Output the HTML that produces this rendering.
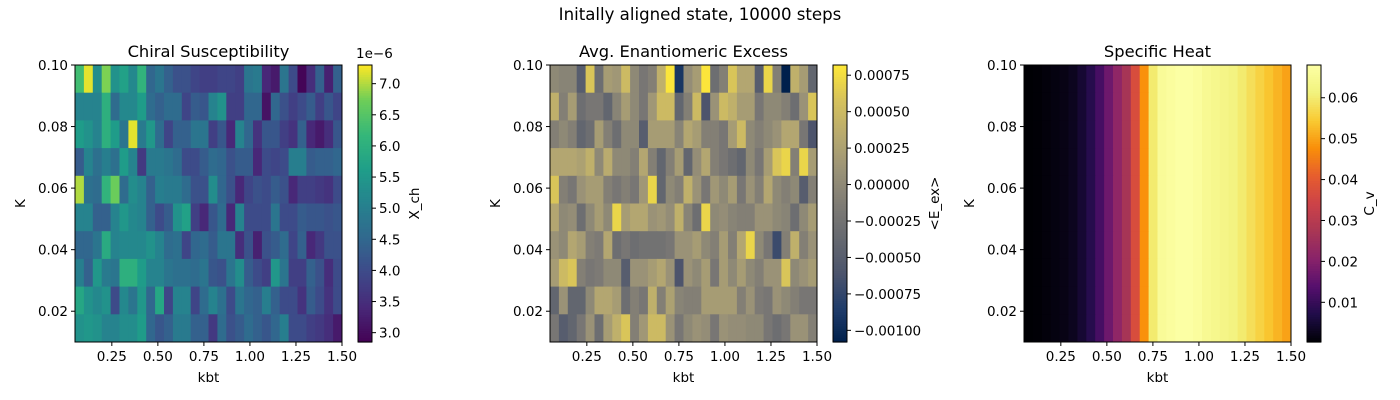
<!DOCTYPE html>
<html><head><meta charset="utf-8">
<style>
body{margin:0;background:#fff;}
svg{display:block;font-family:"DejaVu Sans","Liberation Sans",sans-serif;}
</style></head>
<body>
<svg id="fig" width="1400" height="400" viewBox="0 0 1400 400">
<rect width="1400" height="400" fill="#fff"/>
<text x="700" y="20" text-anchor="middle" font-size="16.6" fill="#000">Initally aligned state, 10000 steps</text>
</svg>
<script>
const xEdges = [0.05, 1.5];
const yEdges = [0.01, 0.10];
const xTicks = [0.25, 0.5, 0.75, 1.0, 1.25, 1.5];
const xTickLabels = ["0.25","0.50","0.75","1.00","1.25","1.50"];
const yTicks = [0.02, 0.04, 0.06, 0.08, 0.10];
const yTickLabels = ["0.02","0.04","0.06","0.08","0.10"];

// Chiral susceptibility (units of 1e-6), rows top (K=0.10) to bottom
const chiRows = [
[6.3,7.2,5.3,6.8,5.4,5.7,5.2,6.1,4.5,4.8,4.4,4.1,4.1,3.9,3.8,3.8,3.9,3.9,3.8,4.8,4.9,3.4,3.2,4.8,4.0,2.9,3.5,4.4,3.3,4.4],
[5.1,5.1,5.1,6.0,4.6,5.2,5.2,5.6,4.6,4.4,4.6,4.6,3.9,4.3,4.2,5.1,5.4,3.8,3.8,4.5,4.5,3.1,4.5,4.1,3.8,4.0,4.3,3.8,4.2,3.9],
[5.6,5.4,5.1,6.0,5.6,4.8,7.2,4.9,5.5,4.6,3.9,4.4,4.4,4.8,4.8,3.8,4.2,3.4,5.1,4.5,3.6,4.2,4.2,3.8,3.6,4.4,3.4,3.2,3.5,4.2],
[4.3,5.1,4.7,5.0,4.7,5.6,5.1,3.7,4.9,4.9,4.8,4.6,4.0,4.0,4.3,4.6,4.5,4.1,4.3,4.3,3.4,4.0,3.9,4.0,5.0,5.0,4.3,4.4,4.4,4.5],
[7.0,4.7,4.6,6.1,6.7,4.6,5.3,5.1,4.4,5.0,4.9,4.9,4.6,4.1,4.1,5.3,4.5,4.1,3.4,3.9,4.1,4.0,4.3,4.1,3.4,3.8,3.8,3.7,3.6,4.0],
[5.1,5.1,4.4,4.4,5.1,5.5,5.2,5.1,4.4,4.0,4.3,5.4,5.7,3.8,3.4,4.2,4.6,3.4,5.1,4.0,4.0,4.0,4.8,4.0,4.0,4.3,4.2,4.2,4.1,4.2],
[4.5,4.5,4.8,5.9,5.1,5.2,5.2,5.2,5.4,5.1,4.6,4.7,3.9,4.5,4.6,4.3,4.8,4.8,3.5,4.1,3.3,4.1,4.3,4.6,3.9,4.4,3.4,3.7,4.1,4.1],
[5.0,4.4,5.5,4.9,4.8,6.0,6.0,5.6,5.1,5.1,4.8,4.7,4.7,4.6,4.8,4.2,4.1,4.8,5.3,4.3,4.0,3.8,5.5,4.8,3.8,3.8,4.4,4.1,3.5,4.0],
[5.8,5.4,5.2,5.4,4.0,5.2,4.8,5.5,4.5,5.8,3.9,5.1,5.1,3.9,4.6,5.1,4.7,4.0,4.8,4.5,4.4,5.0,4.4,4.0,4.0,3.6,4.3,4.0,3.6,4.0],
[5.4,5.5,5.4,5.1,5.1,5.3,5.3,5.6,4.5,4.2,4.4,4.9,4.9,4.4,4.4,3.7,4.6,4.1,4.3,4.6,4.4,4.2,4.5,5.0,4.0,4.0,3.8,3.7,3.5,3.2]
];
const chiTicks = [3.0,3.5,4.0,4.5,5.0,5.5,6.0,6.5,7.0];
const chiTickLabels = ["3.0","3.5","4.0","4.5","5.0","5.5","6.0","6.5","7.0"];

// Enantiomeric excess (units of 1e-4)
const eeRows = [
[0,-0.5,-0.5,-5,6,-3,2,1.5,5,0,-2,-1,4,8,-9,0.5,2,8,-3,-1,6,3,3,-5,7,-1,-10.8,4,2,-4],
[4,-1,2,-3,-2,-2,-4,-0.5,2,0,-2,1.5,5,5,-4,-1,5,-6,1,5,4,2,2,-2,0,0,-1,-3,1,6],
[-1,0,-1,-4,-3,2,-1,-3,0,0,-5,2,2,2,-0.5,3,2,-1,-1,-2,2,5,0,-1,0,1,3,3,-2,-6],
[3,3,3,2.5,4,0,3.5,0,0,-1,3,-1,-4,-1,2,-4,0.5,3,-1,-2,-3,-4,0,-2,2,6,7,-1,7,2],
[6,-1,-2,1,2,2,-1,-2,-1,-2,1.5,7,-4,0,-1,4,1,-2,1.5,0,2,-2,1,-1,3,0,-1,0,-5,-1],
[3,0,0.5,-3,0,2,0,7,2,3,3,1,1.5,0.5,4,-0.5,-3,7,0,0.5,-0.5,-1,-1,1,1,0,-0.5,-3,0,2],
[1,0,3,2,-1,-1.5,3,-3,-2,-3,-2.5,-2.5,-2.5,-2,1,1,2,0,-1,2,-1,3,7,0,-2,-7,-1,4,-1,1],
[2,5,6,-1,-2,-1.5,0,0,-5,1,1,2,3,1,-6,1,0,2,-2,2,0,2,0,-1,1,1,6,0,1,2],
[-4,1,-4,-4,0,3,3,2,-3,-1,-2,4,-1,2.5,-0.5,-1,-1,2,2,2,2,-1,1,-1.5,-2,1,0,-1,-2,-2],
[-2,-5,-4,-2,1,-3,2,4,6,-1,1.5,5,5,1,-2,0,1,0.5,-2,1,0.5,0.5,0,0,-2,-3,-2,1,1,-1]
];
const eeTicks = [-10,-7.5,-5,-2.5,0,2.5,5,7.5];
const eeTickLabels = ["\u22120.00100","\u22120.00075","\u22120.00050","\u22120.00025","0.00000","0.00025","0.00050","0.00075"];

// Specific heat per kbt column (constant over K)
const cvCols = [0.0003,0.0005,0.001,0.0015,0.002,0.003,0.005,0.008,0.012,0.017,0.022,0.027,0.037,0.048,0.060,0.066,0.067,0.068,0.068,0.067,0.065,0.064,0.063,0.062,0.060,0.058,0.056,0.054,0.052,0.050];
const cvTicks = [0.01,0.02,0.03,0.04,0.05,0.06];
const cvTickLabels = ["0.01","0.02","0.03","0.04","0.05","0.06"];

const viridis=["#440154","#482878","#3e4989","#31688e","#26828e","#1f9e89","#35b779","#6ece58","#fde725"];
const cividis=["#00204c","#213d6b","#4c546c","#666970","#7f7c75","#9b9377","#b8aa6f","#d6c25c","#fee838"];
const inferno=["#000004","#1f0c48","#550f6d","#88226a","#a83655","#cc4248","#e65d2f","#f98e09","#f9c932","#f2f27d","#fcffa4"];

function hex(h){return [1,3,5].map(i=>parseInt(h.substr(i,2),16));}
function cmap(stops,t){t=Math.max(0,Math.min(1,t));const n=stops.length-1;const f=t*n;const i=Math.min(n-1,Math.floor(f));const a=hex(stops[i]),b=hex(stops[i+1]);const u=f-i;return "rgb("+a.map((v,k)=>Math.round(v+(b[k]-v)*u)).join(",")+")";}

const NS="http://www.w3.org/2000/svg";
const svg=document.getElementById("fig");
function el(tag,attrs,parent){const e=document.createElementNS(NS,tag);for(const k in attrs)e.setAttribute(k,attrs[k]);(parent||svg).appendChild(e);return e;}
function txt(x,y,s,size,anchor,parent,rot){const t=el("text",{x:x,y:y,"font-size":size,"text-anchor":anchor||"middle",fill:"#000"},parent);if(rot)t.setAttribute("transform","rotate(-90 "+x+" "+y+")");t.textContent=s;return t;}

const TF=13.5;
function panel(key,ax0,title,rows,stops,vmin,vmax,cbTicks,cbLabels,cbTitle,cbTitleOff,cbExp){
  const L=ax0,T=65,W=267,H=277,B=T+H;
  const g=el("g",{});
  
  
  const nr=rows.length,nc=rows[0].length;
  const xs=v=>L+(v-xEdges[0])/(xEdges[1]-xEdges[0])*W;
  const ys=v=>B-(v-yEdges[0])/(yEdges[1]-yEdges[0])*H;
  const dx=(xEdges[1]-xEdges[0])/nc, dy=(yEdges[1]-yEdges[0])/nr;
  for(let r=0;r<nr;r++)for(let c=0;c<nc;c++){
    const x0=xs(xEdges[0]+c*dx),x1=xs(xEdges[0]+(c+1)*dx);
    const y0=ys(yEdges[1]-r*dy),y1=ys(yEdges[1]-(r+1)*dy);
    const cell=el("rect",{x:x0,y:y0,width:x1-x0+0.5,height:y1-y0+0.5,fill:cmap(stops,(rows[r][c]-vmin)/(vmax-vmin))},g);
    
    
  }
  const fr=el("rect",{x:L,y:T,width:W,height:H,fill:"none",stroke:"#000","stroke-width":1},g);
  
  
  xTicks.forEach((v,i)=>{const x=xs(v);el("line",{x1:x,x2:x,y1:B,y2:B+4,stroke:"#000"},g);const t=txt(x,B+19,xTickLabels[i],TF,"middle",g);});
  yTicks.forEach((v,i)=>{const y=ys(v);el("line",{x1:L-4,x2:L,y1:y,y2:y,stroke:"#000"},g);const t=txt(L-7,y+5,yTickLabels[i],TF,"end",g);});
  const xt=txt(L+W/2,B+40,"kbt",TF,"middle",g);
  
  
  const yt=txt(L-50,T+H/2,"K",TF,"middle",g,true);
  
  
  const tt=txt(L+W/2,T-8,title,16.3,"middle",g);
  
  
  // colorbar
  const CL=L+W+16,CW=14;
  const cb=el("g",{},g);
  
  
  const N=120;
  for(let i=0;i<N;i++){el("rect",{x:CL,y:B-(i+1)*H/N,width:CW,height:H/N+0.6,fill:cmap(stops,(i+0.5)/N)},cb);}
  el("rect",{x:CL,y:T,width:CW,height:H,fill:"none",stroke:"#000"},cb);
  const cs=v=>B-(v-vmin)/(vmax-vmin)*H;
  cbTicks.forEach((v,i)=>{const y=cs(v);el("line",{x1:CL+CW,x2:CL+CW+4,y1:y,y2:y,stroke:"#000"},cb);const t=txt(CL+CW+7,y+5,cbLabels[i],TF,"start",cb);});
  const ct=txt(CL+CW+cbTitleOff,T+H/2,cbTitle,TF,"middle",cb,true);
  
  
  if(cbExp){const e=txt(CL-2,T-7,cbExp,TF,"start",cb);}
}

panel("chiral",75,"Chiral Susceptibility",chiRows,viridis,2.85,7.3,chiTicks,chiTickLabels,"X_ch",47,"1e\u22126");
panel("enantiomeric",550,"Avg. Enantiomeric Excess",eeRows,cividis,-10.8,8.2,eeTicks,eeTickLabels,"<E_ex>",92,null);
const cvRows=[0,1,2,3,4,5,6,7,8,9].map(()=>cvCols);
panel("specific-heat",1024,"Specific Heat",cvRows,inferno,0.0003,0.068,cvTicks,cvTickLabels,"C_v",53,null);
</script>
</body></html>
